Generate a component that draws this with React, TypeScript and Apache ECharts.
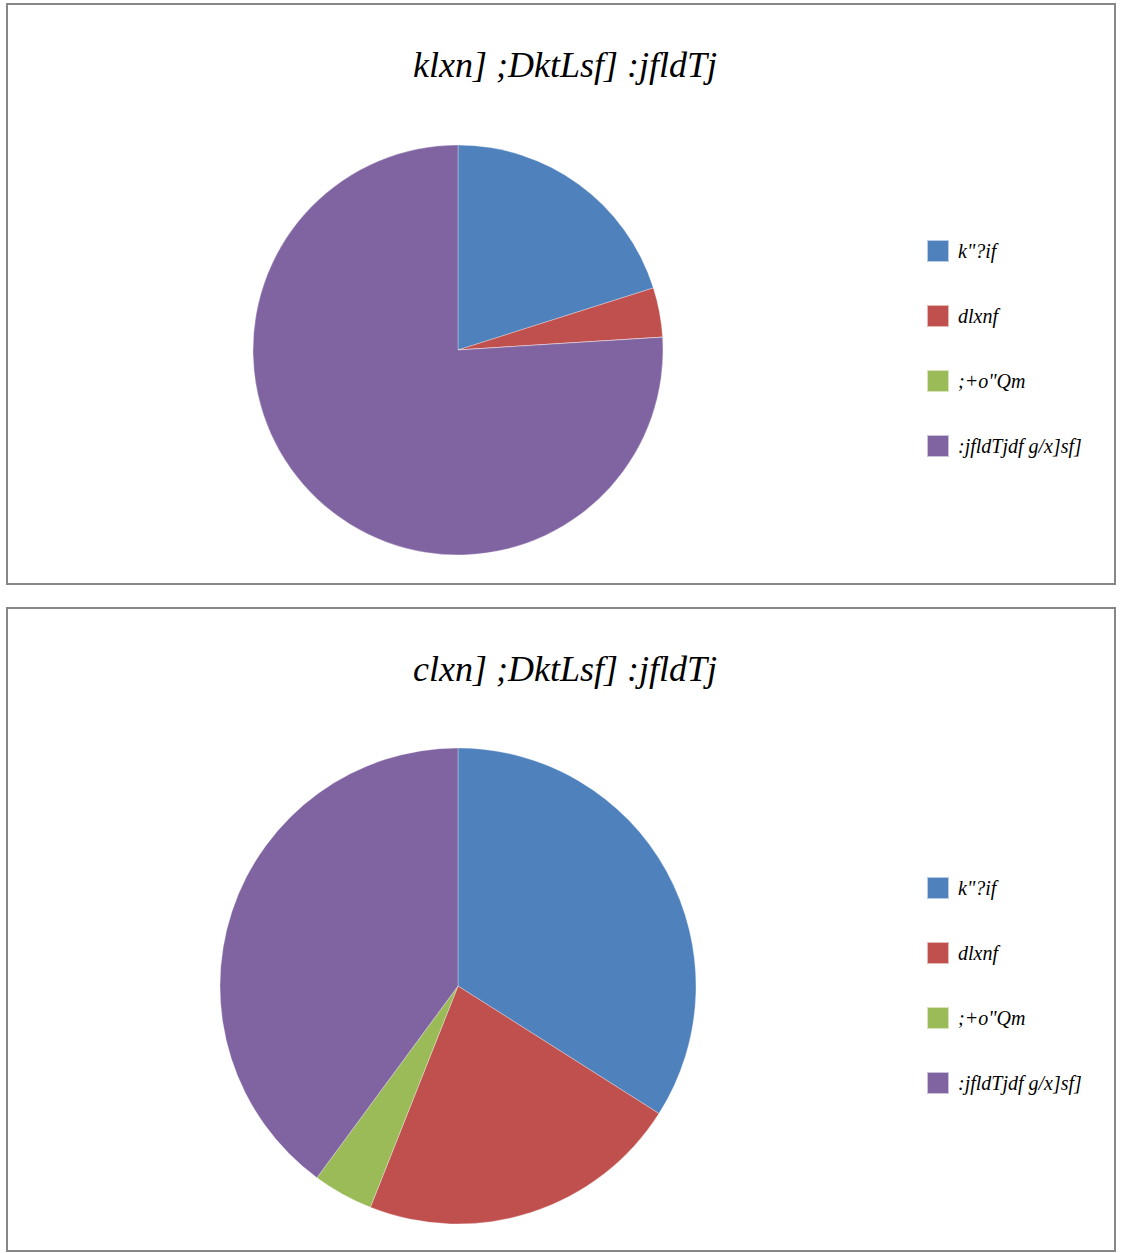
import React, { useEffect, useRef } from "react";
import * as echarts from "echarts";

const categories = ["k\"?if", "dlxnf", ";+o\"Qm", ":jfldTjdf g/x]sf]"];
const topValues = [20.1, 3.9, 0, 76.0];
const bottomValues = [34.0, 22.0, 4.1, 39.9];
const titles = ["klxn] ;DktLsf] :jfldTj", "clxn] ;DktLsf] :jfldTj"];
const colors = ["#4F81BD", "#C0504D", "#9BBB59", "#8064A2"];

const FONT = "'Liberation Serif', serif";

export default function App() {
  const ref = useRef<HTMLDivElement>(null);
  useEffect(() => {
    if (!ref.current) return;
    const chart = echarts.init(ref.current, undefined, { renderer: "svg" });
    const mk = (vals: number[]) =>
      categories.map((name, i) => ({ name, value: vals[i], itemStyle: { color: colors[i] } }));
    const legendBase = {
      orient: "vertical",
      left: 926,
      padding: 0,
      itemWidth: 22,
      itemHeight: 22,
      itemGap: 41,
      icon: "rect",
      data: categories,
      textStyle: {
        fontFamily: FONT,
        fontStyle: "italic",
        fontSize: 20,
        lineHeight: 22,
        color: "#000",
        padding: [0, 0, 0, 4],
      },
    };
    chart.setOption({
      animation: false,
      color: colors,
      title: [
        {
          text: titles[0],
          left: 560,
          top: 42,
          textAlign: "center",
          textStyle: { fontFamily: FONT, fontStyle: "italic", fontWeight: "normal", fontSize: 36, color: "#000" },
        },
        {
          text: titles[1],
          left: 560,
          top: 646,
          textAlign: "center",
          textStyle: { fontFamily: FONT, fontStyle: "italic", fontWeight: "normal", fontSize: 36, color: "#000" },
        },
      ],
      legend: [
        { ...legendBase, top: 239 },
        { ...legendBase, top: 876 },
      ],
      graphic: [
        { type: "rect", shape: { x: 7, y: 4, width: 1108, height: 580 }, style: { fill: "none", stroke: "#878787", lineWidth: 2 } },
        { type: "rect", shape: { x: 7, y: 608, width: 1108, height: 643 }, style: { fill: "none", stroke: "#878787", lineWidth: 2 } },
      ],
      series: [
        {
          type: "pie",
          center: [458, 350],
          radius: 205,
          startAngle: 90,
          clockwise: true,
          label: { show: false },
          labelLine: { show: false },
          emphasis: { disabled: true },
          itemStyle: { borderColor: "rgba(255,255,255,0.6)", borderWidth: 0.5 },
          data: mk(topValues),
        },
        {
          type: "pie",
          center: [458, 986],
          radius: 238,
          startAngle: 90,
          clockwise: true,
          label: { show: false },
          labelLine: { show: false },
          emphasis: { disabled: true },
          itemStyle: { borderColor: "rgba(255,255,255,0.6)", borderWidth: 0.5 },
          data: mk(bottomValues),
        },
      ],
    });
    return () => chart.dispose();
  }, []);
  return (
    <div
      ref={ref}
      style={{ position: "absolute", left: 0, top: 0, width: 1126, height: 1253, background: "#fff" }}
    />
  );
}
